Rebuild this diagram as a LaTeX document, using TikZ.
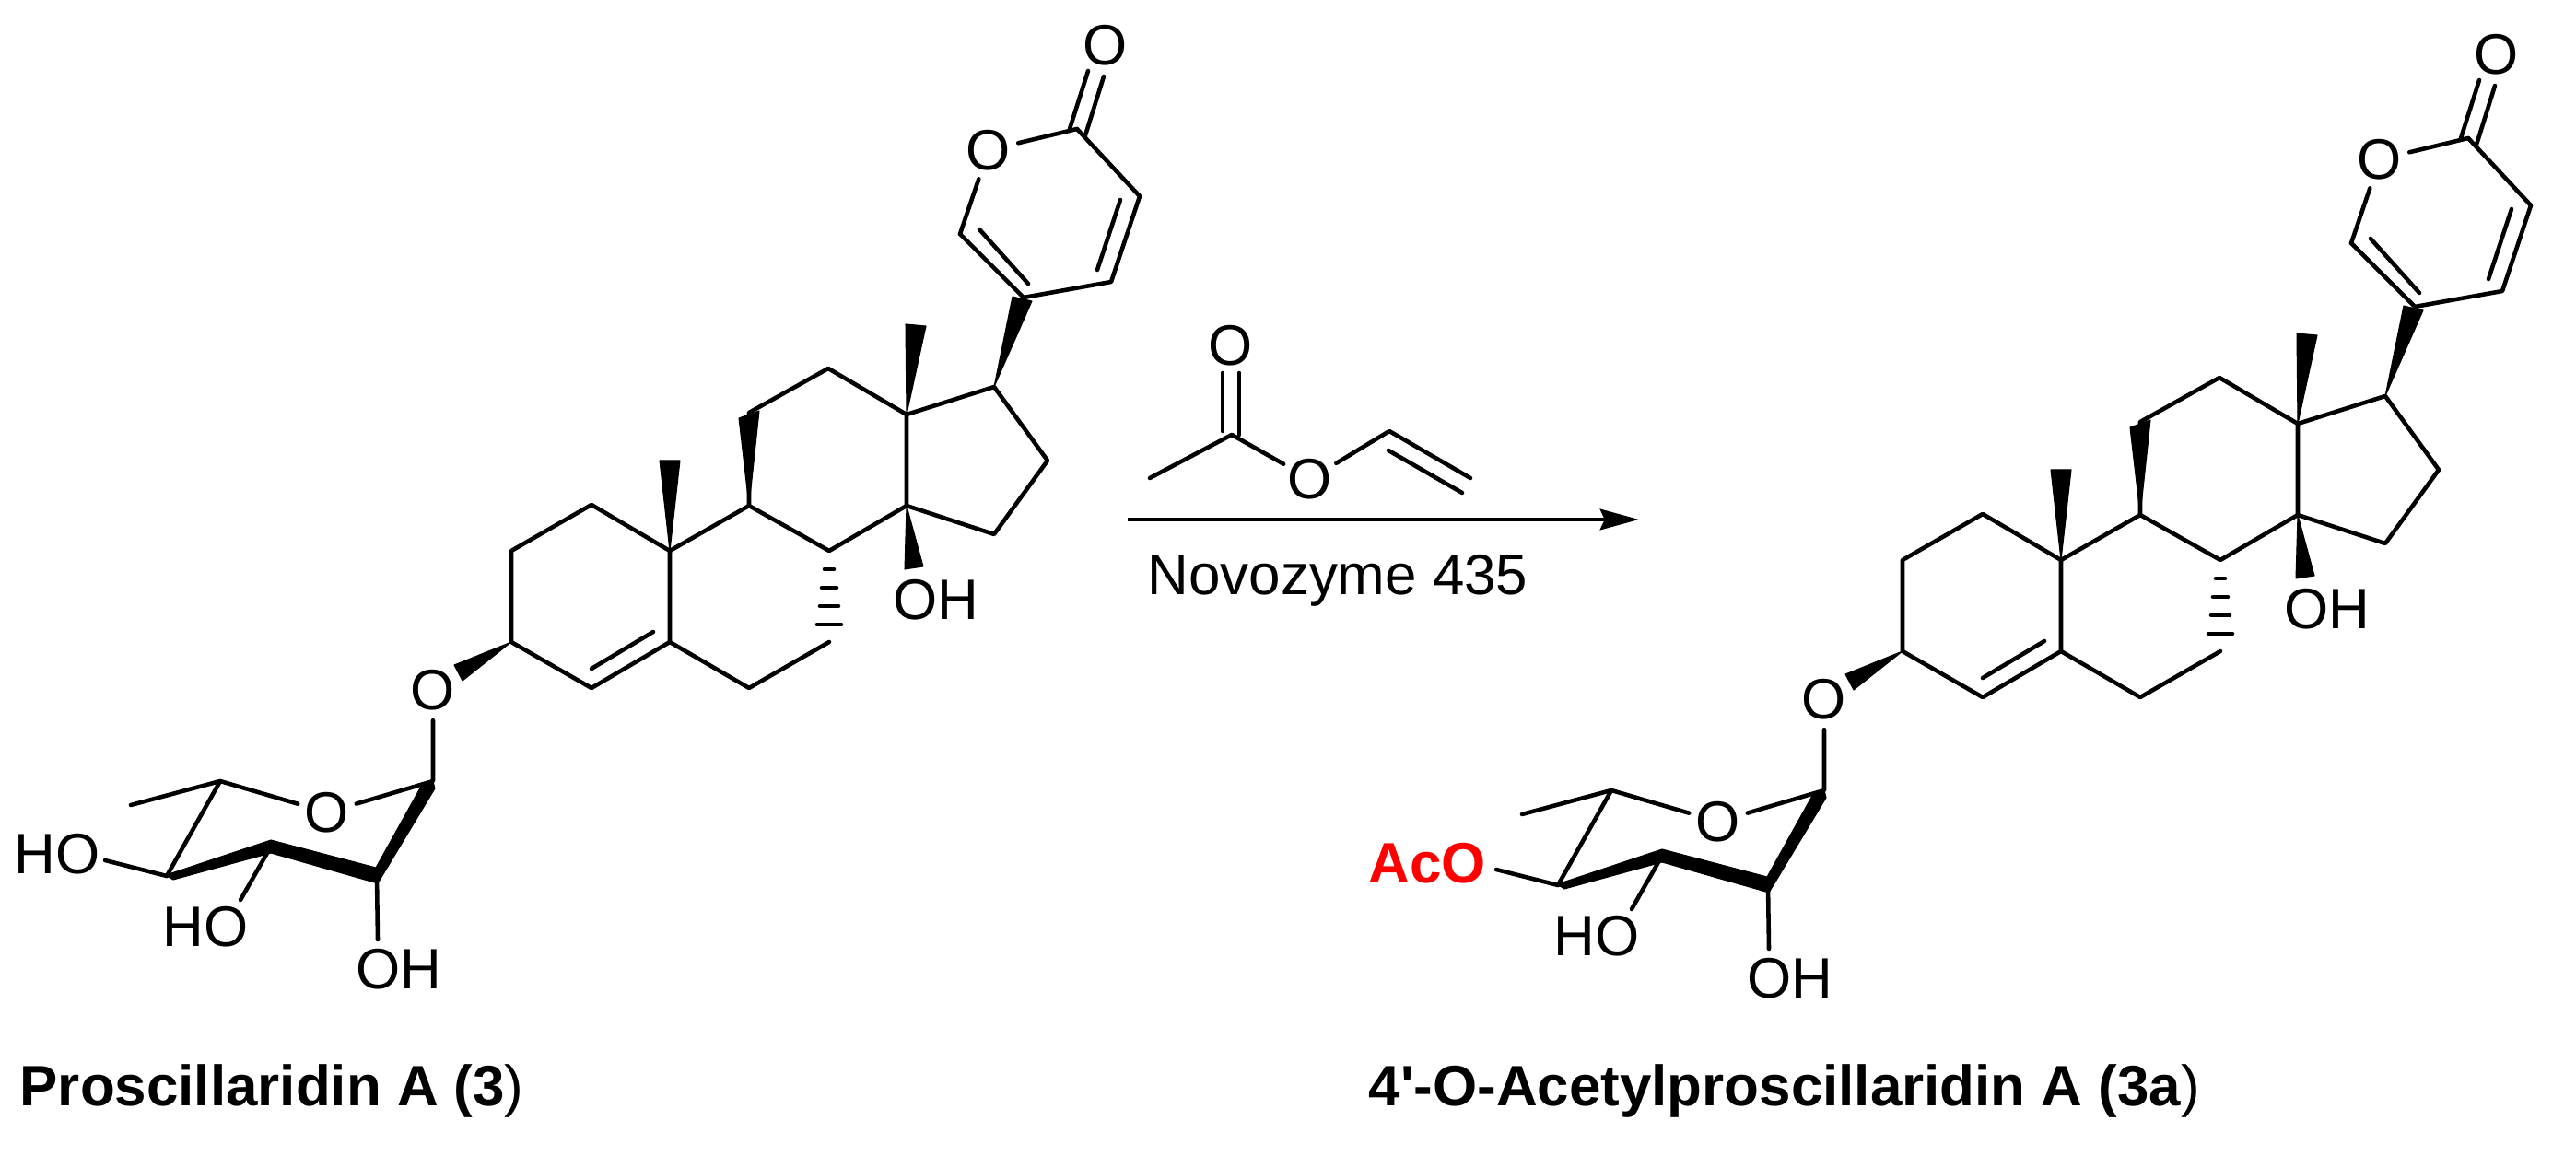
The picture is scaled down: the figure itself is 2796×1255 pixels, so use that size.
\documentclass[tikz,border=0pt]{standalone}
\usepackage{fontspec}
\setmainfont{Liberation Sans}
\usetikzlibrary{arrows.meta}
\tikzset{
  bond/.style={draw=black,line width=1.3pt,line cap=round,line join=round},
  heavy/.style={fill=black,draw=black,line width=0.3pt,line join=round},
  atom/.style={circle,inner sep=0pt,minimum size=0.64cm,font=\fontsize{17.6}{20}\selectfont},
  group/.style={inner sep=0pt,font=\fontsize{17.6}{20}\selectfont},
  caption/.style={inner sep=0pt,anchor=base west,font=\fontsize{17.6}{20}\selectfont}
}
% the part both molecules share
\newcommand{\bufadienolide}{
  \coordinate (C1) at (642,548);
  \coordinate (C2) at (555,598);
  \coordinate (C3) at (555,697);
  \coordinate (C4) at (642,747);
  \coordinate (C5) at (727,697);
  \coordinate (C6) at (813,747);
  \coordinate (C7) at (900,697);
  \coordinate (C8) at (900,598);
  \coordinate (C9) at (813,549);
  \coordinate (C10) at (727,598);
  \coordinate (C11) at (813,448);
  \coordinate (C12) at (899,400);
  \coordinate (C13) at (984,450);
  \coordinate (C14) at (984,549);
  \coordinate (C15) at (1079,580);
  \coordinate (C16) at (1137,500);
  \coordinate (C17) at (1079,420);
  \coordinate (P1) at (1111,323);
  \coordinate (P2) at (1042,254);
  \coordinate (P4) at (1169,140);
  \coordinate (P5) at (1237,213);
  \coordinate (P6) at (1206,306);
  \node[atom] (Op) at (1073,163) {O};
  \node[atom] (Ok) at (1200,49) {O};
  \node[group] (OH14) at (1016,651) {OH};
  \node[atom] (Og) at (470,749) {O};
  \node[atom] (Or) at (355,882) {O};
  \coordinate (S1) at (470,848);
  \coordinate (S2) at (409,951);
  \coordinate (S3) at (294,919);
  \coordinate (S4) at (181,951);
  \coordinate (S5) at (239,848);
  \coordinate (S6) at (142,874);
  \node[group] (HO3) at (223,1006) {HO};
  \node[group] (OH2) at (433,1052) {OH};
  \coordinate (HO3e) at (261,977);
  \coordinate (OH2e) at (410,1020);
  \coordinate (HO4e) at (114,934);
  % rings
  \draw[bond] (C5) -- (C10) -- (C1) -- (C2) -- (C3) -- (C4) -- (C5) -- (C6) -- (C7);
  \draw[bond] (C10) -- (C9) -- (C8) -- (C14) -- (C13) -- (C12) -- (C11) -- (C9);
  \draw[bond] (C13) -- (C17) -- (C16) -- (C15) -- (C14);
  \draw[bond] (P2) -- (P1) -- (P6) -- (P5) -- (P4);
  \draw[bond] (Op) -- (P2);
  \draw[bond] (Op) -- (P4);
  % double bonds
  \draw[bond] (642,726) -- (709,686);
  \draw[bond] (1116,308) -- (1063,249);
  \draw[bond] (1216,217) -- (1191,293);
  \draw[bond] (1161,140) -- (1181,77);
  \draw[bond] (1178,147) -- (1198,83);
  % wedges
  \fill[heavy] (C10) -- (716,500) -- (738,500) -- cycle;
  \fill[heavy] (C9) -- (802,454) -- (824,446) -- cycle;
  \fill[heavy] (C13) -- (983,352) -- (1005,354) -- cycle;
  \fill[heavy] (C14) -- (982,618) -- (1002,615) -- cycle;
  \fill[heavy] (C17) -- (1099,322) -- (1120,327) -- cycle;
  \fill[heavy] (C3) -- (493,722) -- (502,739) -- cycle;
  % hashed bond
  \foreach \y/\w in {618/5,638/8,658/10,678/13}
    \draw[bond] ({900-\w},\y) -- ({900+\w},\y);
  % sugar
  \draw[bond] (Og) -- (S1) -- (Or) -- (S5) -- (S4);
  \draw[bond] (S5) -- (S6);
  \draw[bond] (S3) -- (HO3e);
  \draw[bond] (S2) -- (OH2e);
  \draw[bond] (S4) -- (HO4e);
  \fill[heavy] (180,950) -- (294,912) -- (408,942) -- (458,852) -- (470,848) -- (472,856) -- (410,959) -- (294,926) -- (188,955) -- cycle;
}
\begin{document}
\begin{tikzpicture}[x=0.01cm,y=-0.01cm]
  \useasboundingbox[fill=white] (0,0) rectangle (2796,1255);
  \begin{scope}
    \bufadienolide
    \node[group] (HO4) at (62,927) {HO};
    \node[caption] (name3) at (21,1200) {\textbf{Proscillaridin A (3}{)}};
  \end{scope}
  \begin{scope}[shift={(1510,10)},name prefix=r-]
    \bufadienolide
    \node[group,red,font=\fontsize{17.6}{20}\selectfont\bfseries] (AcO) at (39,927) {AcO};
  \end{scope}
  \node[caption] (name3a) at (1485,1200) {\textbf{4\textquotesingle-O-Acetylproscillaridin A (3a}{)}};
  % reagent
  \node[atom] (Oc) at (1336,375) {O};
  \node[atom] (Oe) at (1422,520) {O};
  \coordinate (Ac) at (1337,472);
  \coordinate (Me) at (1248,519);
  \coordinate (Vi) at (1508,468);
  \coordinate (Vt) at (1596,519);
  \draw[bond] (Me) -- (Ac) -- (Oe) -- (Vi) -- (Vt);
  \draw[bond] (1327,405) -- (1327,468);
  \draw[bond] (1345,405) -- (1345,472);
  \draw[bond] (1507,489) -- (1587,535);
  % arrow
  \coordinate (ArrA) at (1224,564);
  \coordinate (ArrB) at (1779,564);
  \draw[line width=1.3pt,-{Stealth[length=12pt,width=6.4pt,inset=1.4pt]}] (ArrA) -- (ArrB);
  \node[group,anchor=base] (enzyme) at (1452,646) {Novozyme 435};
\end{tikzpicture}
\end{document}
